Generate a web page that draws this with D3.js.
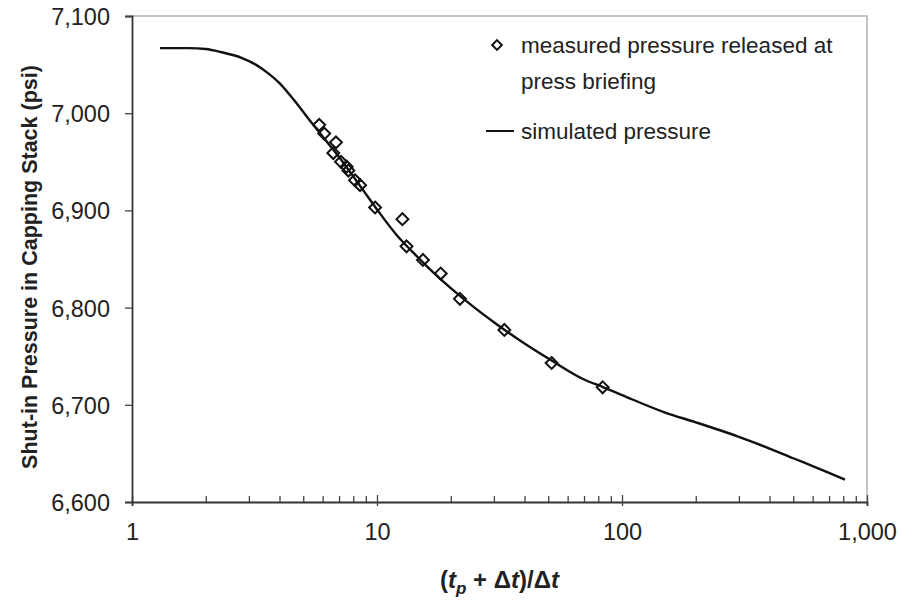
<!DOCTYPE html>
<meta charset="utf-8">
<title>Shut-in pressure in capping stack</title>
<script src="https://d3js.org/d3.v7.min.js"></script>
<style>
  body { margin: 0; background: #fff; }
  text { font-family: "Liberation Sans", Arial, Helvetica, sans-serif; fill: #222; }
  .tick text { font-size: 23.5px; }
  .legend text { font-size: 22.5px; }
</style>
<body>
<svg width="902" height="609"></svg>
<script>
  // measured pressure released at press briefing
  var measuredX = [5.81, 6.09, 6.80, 6.63, 7.13, 7.52, 7.64, 8.13, 8.53, 9.82, 12.7, 13.2, 15.4, 18.2, 21.8, 33.1, 51.6, 83.4];
  var measuredY = [6988, 6979, 6970, 6959, 6950, 6945, 6941, 6931, 6926, 6903, 6891, 6863, 6849, 6835, 6809, 6777, 6743, 6718];

  // simulated pressure
  var simX = [1.3, 1.7, 2.0, 2.3, 2.8, 3.2, 3.6, 4.0, 4.6, 5.3, 6.0, 7.0, 8.0, 9.0, 10, 12, 14, 17, 20, 25, 30, 40, 52, 70, 84, 100, 150, 200, 300, 400, 500, 600, 700, 813];
  var simY = [7067, 7067, 7066, 7063, 7057, 7050, 7041, 7031, 7013, 6993, 6976, 6955, 6935, 6917, 6901, 6875, 6857, 6836, 6820, 6800, 6785, 6763, 6745, 6726, 6718, 6710, 6692, 6682, 6667, 6655, 6645, 6637, 6630, 6623];

  var xTicks = [1, 10, 100, 1000];
  var yTicks = [6600, 6700, 6800, 6900, 7000, 7100];

  var svg = d3.select("svg"),
    margin = { left: 132, right: 35, top: 16, bottom: 107 },
    width = +svg.attr("width") - margin.left - margin.right,
    height = +svg.attr("height") - margin.top - margin.bottom;

  var g = svg.append("g").attr("transform", "translate(" + margin.left + "," + margin.top + ")");

  var x = d3.scaleLog().domain([1, 1000]).range([0, width]);
  var y = d3.scaleLinear().domain([6600, 7100]).range([height, 0]);

  // light frame on top and right
  g.append("path")
    .attr("d", "M0,0H" + width + "V" + height)
    .attr("fill", "none")
    .attr("stroke", "#b5b0ad")
    .attr("stroke-width", 1.5);

  var fmt = d3.format(",");

  // minor ticks on the log axis
  var minor = [];
  [1, 10, 100].forEach(function (d) { for (var i = 2; i <= 9; i++) minor.push(d * i); });

  g.append("g")
    .attr("transform", "translate(0," + height + ")")
    .call(d3.axisBottom(x).tickValues(minor).tickSize(-6).tickFormat(""))
    .call(function (s) { s.select(".domain").remove(); s.selectAll("line").attr("stroke", "#444").attr("stroke-width", 1.3); });

  var xAxis = g.append("g")
    .attr("transform", "translate(0," + height + ")")
    .call(d3.axisBottom(x).tickValues(xTicks).tickFormat(fmt).tickSize(4).tickPadding(17));
  xAxis.selectAll("line").attr("stroke", "#444").attr("stroke-width", 1.3).attr("y1", -7);
  xAxis.select(".domain").attr("stroke", "#333").attr("stroke-width", 1.8);

  var yAxis = g.append("g")
    .call(d3.axisLeft(y).tickValues(yTicks).tickFormat(fmt).tickSizeOuter(0).tickSize(7).tickPadding(15));
  yAxis.selectAll("line").attr("stroke", "#444").attr("stroke-width", 1.3);
  yAxis.select(".domain").attr("stroke", "#333").attr("stroke-width", 1.8);
  yAxis.selectAll("text").attr("dy", "0.36em");

  // simulated curve
  var line = d3.line()
    .x(function (d, i) { return x(simX[i]); })
    .y(function (d) { return y(d); })
    .curve(d3.curveMonotoneX);

  g.append("path")
    .datum(simY)
    .attr("fill", "none")
    .attr("stroke", "#111")
    .attr("stroke-width", 2.4)
    .attr("d", line);

  // measured points
  var diamond = d3.symbol().type(d3.symbolDiamond2).size(90);
  g.selectAll(".pt")
    .data(measuredY)
    .enter().append("path")
    .attr("class", "pt")
    .attr("d", diamond)
    .attr("transform", function (d, i) { return "translate(" + x(measuredX[i]) + "," + y(d) + ")"; })
    .attr("fill", "none")
    .attr("stroke", "#111")
    .attr("stroke-width", 2);

  // legend
  var lg = svg.append("g").attr("class", "legend");
  lg.append("path")
    .attr("d", d3.symbol().type(d3.symbolDiamond2).size(60))
    .attr("transform", "translate(497,45)")
    .attr("fill", "none").attr("stroke", "#111").attr("stroke-width", 2);
  lg.append("text").attr("x", 521).attr("y", 53).text("measured pressure released at");
  lg.append("text").attr("x", 521).attr("y", 89).text("press briefing");
  lg.append("line").attr("x1", 486).attr("x2", 514).attr("y1", 131).attr("y2", 131)
    .attr("stroke", "#111").attr("stroke-width", 2);
  lg.append("text").attr("x", 521).attr("y", 139).text("simulated pressure");

  // axis titles
  svg.append("text")
    .attr("transform", "translate(37," + (margin.top + height / 2 + 8) + ") rotate(-90)")
    .attr("text-anchor", "middle")
    .style("font-size", "21.5px")
    .style("font-weight", "bold")
    .text("Shut-in Pressure in Capping Stack (psi)");

  var xt = svg.append("text")
    .attr("x", margin.left + width / 2)
    .attr("y", 588)
    .attr("text-anchor", "middle")
    .style("font-size", "24px")
    .style("font-weight", "bold");
  xt.append("tspan").text("(");
  xt.append("tspan").style("font-style", "italic").text("t");
  xt.append("tspan").attr("dy", 6).style("font-size", "17px").style("font-style", "italic").text("p");
  xt.append("tspan").attr("dy", -6).text(" + Δ");
  xt.append("tspan").style("font-style", "italic").text("t");
  xt.append("tspan").text(")/Δ");
  xt.append("tspan").style("font-style", "italic").text("t");
</script>
</body>
